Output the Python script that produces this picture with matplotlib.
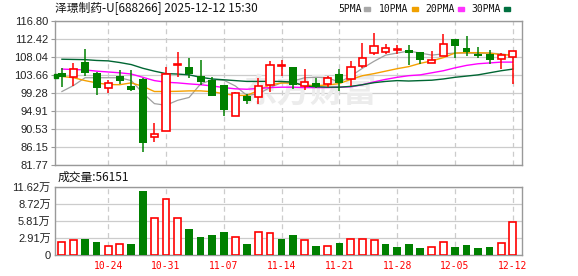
import matplotlib.pyplot as plt
from matplotlib.patches import Rectangle

plt.rcParams['font.family'] = ['Liberation Sans', 'Noto Sans CJK SC', 'DejaVu Sans']

# ------------------------------------------------------------
# Data
# ------------------------------------------------------------
dates = ["10-20", "10-21", "10-22", "10-23", "10-24",
         "10-27", "10-28", "10-29", "10-30", "10-31",
         "11-03", "11-04", "11-05", "11-06", "11-07",
         "11-10", "11-11", "11-12", "11-13", "11-14",
         "11-17", "11-18", "11-19", "11-20", "11-21",
         "11-24", "11-25", "11-26", "11-27", "11-28",
         "12-01", "12-02", "12-03", "12-04", "12-05",
         "12-08", "12-09", "12-10", "12-11", "12-12"]

opens = [104.2, 103.1, 106.9, 104.2, 100.5, 103.5, 101.1, 102.7, 88.5, 90.15,
         106.1, 105.7, 103.3, 102.5, 101.3, 93.8, 98.45, 98.3, 101.3, 105.9,
         105.7, 100.95, 101.8, 101.5, 104.0, 102.7, 105.85, 108.9, 109.2, 109.7,
         109.8, 109.2, 106.6, 108.3, 112.4, 110.2, 108.8, 108.8, 107.5, 108.1]
highs = [105.4, 106.5, 110.0, 104.3, 102.5, 105.0, 105.0, 102.95, 91.9, 105.7,
         109.3, 107.7, 107.3, 103.1, 101.3, 99.5, 99.1, 102.95, 107.1, 107.3,
         105.7, 105.1, 102.95, 103.5, 105.1, 107.0, 111.5, 113.9, 111.2, 111.0,
         111.0, 109.2, 109.55, 113.7, 112.4, 113.2, 110.5, 109.8, 109.0, 109.5]
lows = [100.8, 100.9, 103.5, 98.85, 99.25, 101.5, 99.7, 85.0, 87.4, 90.1,
        103.1, 103.0, 101.3, 98.5, 93.7, 93.8, 96.7, 96.7, 99.5, 103.5,
        100.3, 100.1, 100.6, 100.7, 99.7, 101.1, 105.4, 108.6, 108.7, 108.7,
        106.2, 106.3, 106.6, 108.3, 107.8, 108.4, 107.8, 106.3, 105.1, 101.5]
closes = [103.1, 105.05, 104.1, 100.5, 101.8, 102.15, 100.1, 87.2, 89.4, 103.9,
          106.3, 103.9, 101.9, 98.5, 95.2, 99.4, 97.3, 100.9, 106.1, 106.0,
          101.3, 102.0, 100.85, 102.9, 101.8, 105.7, 107.9, 110.8, 110.2, 109.9,
          108.9, 107.3, 107.3, 111.3, 110.7, 109.2, 108.2, 107.2, 108.6, 109.5]
prev_close = 102.5

# volume in 万 shares
volumes = [2.29, 2.63, 2.80, 2.29, 1.60, 1.89, 1.95, 10.88, 6.24, 9.50,
           6.24, 4.40, 3.03, 3.49, 4.00, 3.15, 1.95, 4.00, 3.83, 2.69,
           3.38, 2.56, 1.59, 1.53, 2.05, 2.73, 2.73, 2.50, 1.88, 1.42,
           1.88, 1.25, 1.36, 2.16, 1.42, 1.70, 1.25, 1.42, 1.99, 5.6151]

ma5 = [99.65, 101.1, 103.0, 103.0, 103.0, 103.0, 102.3, 99.25, 96.7, 96.3,
       97.5, 98.2, 101.5, 102.5, 102.4, 101.0, 98.7, 99.1, 100.6, 101.8,
       102.2, 103.0, 103.1, 103.0, 101.9, 103.4, 105.3, 107.0, 108.5, 109.0,
       109.5, 109.0, 108.5, 108.8, 109.0, 109.0, 108.9, 109.0, 108.8, 108.4]
ma10 = [103.3, 103.0, 102.3, 101.75, 101.35, 101.3, 101.75, 100.9, 99.65, 99.65,
        99.7, 99.8, 99.8, 99.6, 99.1, 98.7, 98.7, 99.9, 101.3, 101.7,
        101.7, 101.2, 101.1, 101.2, 101.6, 102.6, 103.5, 104.0, 104.6, 105.2,
        105.7, 106.5, 107.1, 107.9, 109.0, 109.1, 109.1, 109.0, 108.6, 108.5]
ma20 = [105.1, 105.0, 104.9, 104.6, 104.4, 104.2, 103.9, 103.1, 102.3, 101.9,
        101.75, 101.5, 101.3, 101.0, 100.6, 100.3, 100.2, 100.4, 100.6, 100.7,
        100.7, 100.6, 100.6, 100.6, 100.7, 100.8, 101.3, 102.0, 102.6, 103.1,
        103.5, 103.7, 104.2, 104.7, 105.4, 106.0, 106.4, 106.6, 106.8, 106.8]
ma30 = [107.5, 107.45, 107.4, 107.2, 107.1, 106.7, 106.2, 105.3, 104.6, 104.0,
        103.9, 103.7, 103.1, 102.7, 102.5, 102.3, 102.1, 102.1, 102.1, 102.1,
        101.9, 101.0, 100.8, 100.7, 100.7, 100.9, 101.3, 101.8, 102.1, 102.3,
        102.2, 102.3, 102.4, 102.7, 103.1, 103.4, 103.7, 104.2, 104.7, 105.1]

price_ticks = [81.77, 86.15, 90.53, 94.91, 99.28, 103.66, 108.04, 112.42, 116.80]
vol_ticks = [0, 2.91, 5.81, 8.72, 11.62]
vol_labels = ["0", "2.91万", "5.81万", "8.72万", "11.62万"]

RED = "#ff0000"
GREEN = "#008000"
GRID = "#cccccc"
FRAME = "#999999"

# ------------------------------------------------------------
# Figure
# ------------------------------------------------------------
W, H = 578, 276
fig = plt.figure(figsize=(W / 100, H / 100), dpi=100)
ax = fig.add_axes([55 / W, 1 - 165 / H, 467 / W, 144 / H])
axv = fig.add_axes([55 / W, 1 - 255 / H, 467 / W, 68 / H])

x = list(range(len(dates)))
fridays = [i for i in x if i % 5 == 4]

for a in (ax, axv):
    a.set_xlim(-0.6, len(dates) - 0.2)
    for s in a.spines.values():
        s.set_color(FRAME)
        s.set_linewidth(1.0)
    for i in fridays:
        a.axvline(i, color=GRID, lw=0.9, ls=(0, (4, 3)), zorder=0)

# moving averages
ax.plot(x, ma5, color="#a0a0a0", lw=0.9, zorder=2)
ax.plot(x, ma10, color="#f5a000", lw=1.0, zorder=2)
ax.plot(x, ma20, color="#ff00ff", lw=1.0, zorder=2)
ax.plot(x, ma30, color="#006633", lw=1.0, zorder=2)

# candles
for i in x:
    o, h, l, c = opens[i], highs[i], lows[i], closes[i]
    up = c >= o
    col = RED if up else GREEN
    ax.vlines(i, l, h, color=col, lw=1.1, zorder=3)
    bottom = min(o, c)
    height = max(abs(c - o), 0.06)
    if up:
        ax.bar(i, height, 0.62, bottom=bottom, facecolor="white",
               edgecolor=RED, linewidth=1.2, zorder=4)
    else:
        ax.bar(i, height, 0.68, bottom=bottom, color=GREEN, linewidth=0, zorder=4)

ax.set_ylim(price_ticks[0], price_ticks[-1])
ax.set_yticks(price_ticks)
ax.set_yticklabels([f"{v:.2f}" for v in price_ticks])
ax.yaxis.grid(True, color=GRID, lw=0.9)
ax.set_axisbelow(True)
ax.tick_params(axis="y", length=3, width=0.8, color=FRAME, pad=2,
               labelsize=8, labelcolor="#222222")
ax.tick_params(axis="x", length=0, labelbottom=False)
ax.plot(-0.55, 103.4, marker="s", ms=2.5, color=GREEN, clip_on=False, zorder=5)

ax.text(0.545, 0.5, "东方财富", transform=ax.transAxes, ha="center", va="center",
        fontsize=24, fontweight="bold", color="#ececec", zorder=1,
        family=["Noto Sans CJK SC"])

# volume
vol_up = [closes[i] >= (closes[i - 1] if i > 0 else prev_close) for i in x]
for i in x:
    if vol_up[i]:
        axv.bar(i, volumes[i], 0.6, facecolor="white", edgecolor=RED,
                linewidth=1.2, zorder=3)
    else:
        axv.bar(i, volumes[i], 0.66, color=GREEN, linewidth=0, zorder=3)

axv.set_ylim(0, vol_ticks[-1])
axv.set_yticks(vol_ticks)
axv.set_yticklabels(vol_labels)
axv.yaxis.grid(True, color=GRID, lw=0.9)
axv.set_axisbelow(True)
axv.tick_params(axis="y", length=0, pad=3, labelsize=8, labelcolor="#222222")
axv.set_xticks(fridays)
axv.set_xticklabels([dates[i] for i in fridays], color=RED, fontsize=7,
                    family=["DejaVu Sans Mono"])
axv.tick_params(axis="x", length=0, pad=4)

# header texts
fig.text(55 / W, 1 - 9 / H, "泽璟制药-U[688266] 2025-12-12 15:30",
         ha="left", va="center", fontsize=8.5, color="#111111",
         family=["Noto Sans CJK SC", "DejaVu Sans"])
fig.text(58 / W, 1 - 177 / H, "成交量:56151", ha="left", va="center",
         fontsize=8.5, color="#111111", family=["Noto Sans CJK SC", "DejaVu Sans"])

legend = [("5PMA", 338, "#a8a8a8"), ("10PMA", 379, "#f0a000"),
          ("20PMA", 425, "#ff33ff"), ("30PMA", 471, "#007040")]
for label, px, col in legend:
    t = fig.text(px / W, 1 - 9 / H, label, ha="left", va="center", fontsize=7,
                 color="#111111", family=["DejaVu Sans Mono"])
    sq_x = px + 6.1 * len(label) + 2
    fig.patches.append(Rectangle((sq_x / W, 1 - 11 / H), 6 / W, 4 / H,
                                 transform=fig.transFigure, color=col))

fig.savefig("out.png", dpi=100)
